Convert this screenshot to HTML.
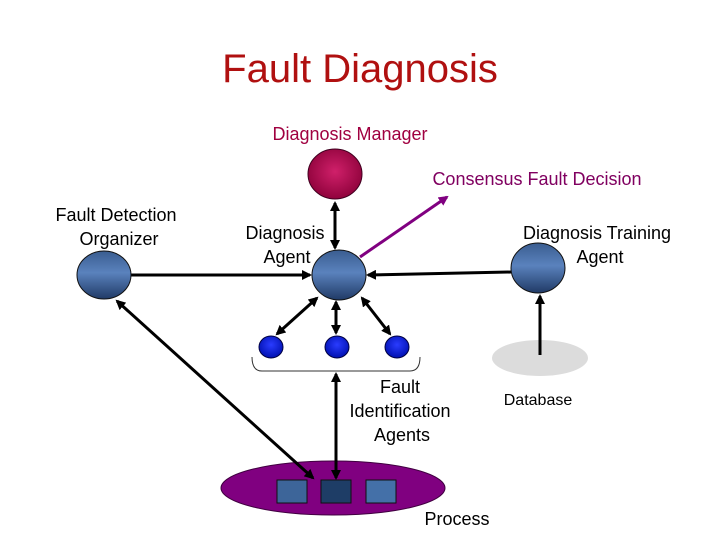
<!DOCTYPE html>
<html><head><style>
body{margin:0;background:#fff}
svg text{font-family:"Liberation Sans",sans-serif}
</style></head><body>
<svg width="720" height="540" xmlns="http://www.w3.org/2000/svg">
<defs>
<radialGradient id="mg" cx="50%" cy="45%" r="60%"><stop offset="0" stop-color="#d0206a"/><stop offset="1" stop-color="#8a0038"/></radialGradient>
<linearGradient id="bg" x1="0" y1="0" x2="0" y2="1"><stop offset="0" stop-color="#3a5d90"/><stop offset="0.45" stop-color="#5a82bd"/><stop offset="1" stop-color="#203a66"/></linearGradient>
<radialGradient id="sb" cx="50%" cy="40%" r="60%"><stop offset="0" stop-color="#2a3cff"/><stop offset="1" stop-color="#0010b0"/></radialGradient>
<marker id="ak" markerWidth="10" markerHeight="10" refX="8" refY="5" orient="auto-start-reverse" markerUnits="userSpaceOnUse"><path d="M0,0 L10,5 L0,10 z" fill="#000"/></marker>
<marker id="ap" markerWidth="10" markerHeight="10" refX="8" refY="5" orient="auto" markerUnits="userSpaceOnUse"><path d="M0,0 L10,5 L0,10 z" fill="#800080"/></marker>
</defs>
<text x="360" y="82" font-size="40" fill="#b01010" text-anchor="middle">Fault Diagnosis</text>
<text x="350" y="140" font-size="18" fill="#a00040" text-anchor="middle">Diagnosis Manager</text>
<text x="537" y="185" font-size="18" fill="#800060" text-anchor="middle">Consensus Fault Decision</text>
<text x="116" y="221" font-size="18" text-anchor="middle">Fault Detection</text>
<text x="119" y="245" font-size="18" text-anchor="middle">Organizer</text>
<text x="285" y="239" font-size="18" text-anchor="middle">Diagnosis</text>
<text x="287" y="263" font-size="18" text-anchor="middle">Agent</text>
<text x="597" y="239" font-size="18" text-anchor="middle">Diagnosis Training</text>
<text x="600" y="263" font-size="18" text-anchor="middle">Agent</text>
<text x="400" y="393" font-size="18" text-anchor="middle">Fault</text>
<text x="400" y="417" font-size="18" text-anchor="middle">Identification</text>
<text x="402" y="441" font-size="18" text-anchor="middle">Agents</text>
<text x="538" y="405" font-size="16" text-anchor="middle">Database</text>
<text x="457" y="525" font-size="18" text-anchor="middle">Process</text>

<ellipse cx="540" cy="358" rx="48" ry="18" fill="#dcdcdc"/>
<ellipse cx="333" cy="488" rx="112" ry="27" fill="#800080" stroke="#400040"/>
<rect x="277" y="480" width="30" height="23" fill="#3d6599" stroke="#111"/>
<rect x="321" y="480" width="30" height="23" fill="#1e3d66" stroke="#111"/>
<rect x="366" y="480" width="30" height="23" fill="#4470a8" stroke="#111"/>
<path d="M252,357 Q252,371 262,371 L410,371 Q420,371 420,357" fill="none" stroke="#333" stroke-width="1"/>

<g stroke="#000" stroke-width="3" fill="none">
<line x1="335" y1="203" x2="335" y2="248" marker-start="url(#ak)" marker-end="url(#ak)"/>
<line x1="131" y1="275" x2="310" y2="275" marker-end="url(#ak)"/>
<line x1="511" y1="272" x2="368" y2="275" marker-end="url(#ak)"/>
<line x1="540" y1="355" x2="540" y2="296" marker-end="url(#ak)"/>
<line x1="317" y1="298" x2="277" y2="334" marker-start="url(#ak)" marker-end="url(#ak)"/>
<line x1="336" y1="302" x2="336" y2="333" marker-start="url(#ak)" marker-end="url(#ak)"/>
<line x1="362" y1="298" x2="390" y2="334" marker-start="url(#ak)" marker-end="url(#ak)"/>
<line x1="117" y1="301" x2="313" y2="478" marker-start="url(#ak)" marker-end="url(#ak)"/>
<line x1="336" y1="478" x2="336" y2="374" marker-start="url(#ak)" marker-end="url(#ak)"/>
</g>
<line x1="360" y1="257" x2="447" y2="197" stroke="#800080" stroke-width="3" marker-end="url(#ap)"/>

<ellipse cx="335" cy="174" rx="27" ry="25" fill="url(#mg)" stroke="#400020"/>
<ellipse cx="339" cy="275" rx="27" ry="25" fill="url(#bg)" stroke="#111"/>
<ellipse cx="104" cy="275" rx="27" ry="24" fill="url(#bg)" stroke="#111"/>
<ellipse cx="538" cy="268" rx="27" ry="25" fill="url(#bg)" stroke="#111"/>
<ellipse cx="271" cy="347" rx="12" ry="11" fill="url(#sb)" stroke="#000040"/>
<ellipse cx="337" cy="347" rx="12" ry="11" fill="url(#sb)" stroke="#000040"/>
<ellipse cx="397" cy="347" rx="12" ry="11" fill="url(#sb)" stroke="#000040"/>
</svg>
</body></html>
